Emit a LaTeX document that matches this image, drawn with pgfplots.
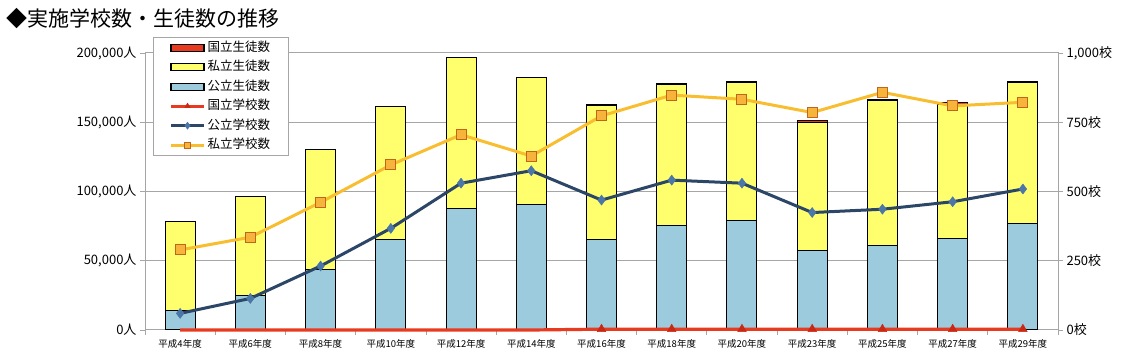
\documentclass[border=0pt]{standalone}
\usepackage{fontspec}
\setmainfont{Noto Sans CJK JP}
\usepackage{pgfplots}
\pgfplotsset{compat=1.18}
\definecolor{cnat}{RGB}{232,58,30}
\definecolor{cnatm}{RGB}{200,40,20}
\definecolor{cpri}{RGB}{255,255,110}
\definecolor{cpub}{RGB}{155,203,220}
\definecolor{cnavy}{RGB}{44,70,104}
\definecolor{cdia}{RGB}{74,118,168}
\definecolor{corange}{RGB}{248,190,48}
\definecolor{csq}{RGB}{247,180,58}
\definecolor{csqe}{RGB}{192,101,30}
\definecolor{cgrid}{RGB}{166,166,166}

\pgfplotsset{
  base/.style={
    scale only axis, width=913pt, height=277pt,
    at={(145pt,26pt)}, anchor=south west,
    xmin=-0.5, xmax=12.5,
    tick align=outside, major tick length=5pt,
    tick style={cgrid, line width=0.8pt},
    axis line style={cgrid, line width=1pt},
    yticklabel style={font=\fontsize{13}{13}\selectfont},
    scaled y ticks=false,
  },
  barleg/.style={legend image code/.code={\draw[##1, line width=1.2pt] (0pt,-3.5pt) rectangle (33pt,3.5pt);}},
  lineleg/.style={legend image code/.code={\draw[mark repeat=2, mark phase=2, ##1] plot coordinates {(0pt,0pt) (16.5pt,0pt) (33pt,0pt)};}},
}

\begin{document}
\begin{tikzpicture}[x=1pt,y=1pt]
\path[use as bounding box] (0,0) rectangle (1135,356);
\node[anchor=west, inner sep=0pt, font=\fontsize{21}{21}\selectfont] at (6,337) {◆実施学校数・生徒数の推移};

\begin{axis}[base,
  ymin=0, ymax=200000,
  ytick={0,50000,100000,150000,200000},
  yticklabels={{0人},{50,000人},{100,000人},{150,000人},{200,000人}},
  ytick pos=left,
  ymajorgrids, grid style={cgrid, line width=1pt},
  xtick={-0.5,0.5,1.5,2.5,3.5,4.5,5.5,6.5,7.5,8.5,9.5,10.5,11.5,12.5},
  x tick label as interval,
  xticklabels={平成4年度,平成6年度,平成8年度,平成10年度,平成12年度,平成14年度,平成16年度,平成18年度,平成20年度,平成23年度,平成25年度,平成27年度,平成29年度},
  xtick pos=bottom,
  xticklabel style={font=\fontsize{9.5}{9.5}\selectfont, yshift=-1pt},
  ybar stacked, bar width=30pt,
]
\addplot[fill=cpub, draw=black, line width=1pt] coordinates {
(0,14400) (1,25200) (2,43700) (3,65500) (4,87500) (5,90400) (6,65500) (7,75500) (8,79100) (9,57600) (10,61100) (11,66200) (12,76700)};
\addplot[fill=cpri, draw=black, line width=1pt] coordinates {
(0,64200) (1,71400) (2,86500) (3,95600) (4,109600) (5,91800) (6,96600) (7,101400) (8,99300) (9,92500) (10,104600) (11,96800) (12,101700)};
\addplot[fill=cnat, draw=black, line width=1pt] coordinates {
(0,0) (1,0) (2,0) (3,0) (4,0) (5,0) (6,1000) (7,1000) (8,1000) (9,1000) (10,1000) (11,1000) (12,1000)};
\end{axis}

\begin{axis}[base,
  ymin=0, ymax=1000,
  axis x line=none,
  axis y line*=right,
  ytick={0,250,500,750,1000},
  yticklabels={{0校},{250校},{500校},{750校},{1,000校}},
  clip=false,
  legend style={at={(0.0088,1.058)}, anchor=north west, draw=cgrid, line width=1pt, fill=white,
    inner xsep=16pt, inner ysep=4pt,
    font=\fontsize{12.5}{12.5}\selectfont, row sep=7pt,
    nodes={inner ysep=0pt, text height=10pt, text depth=2.5pt}},
  legend cell align=left,
]
\addplot[color=cnat, line width=3.2pt, forget plot] coordinates {
(0,0) (1,0) (2,0) (3,0) (4,0) (5,0) (6,3) (7,3) (8,3) (9,3) (10,3) (11,3) (12,3)};
\addplot[only marks, mark=triangle*, mark size=5pt, mark options={fill=cnatm, draw=cnatm}, forget plot] coordinates {
(6,3) (7,3) (8,3) (9,3) (10,3) (11,3) (12,3)};
\addplot[color=cnavy, line width=3pt, mark=diamond*, mark size=5pt, mark options={fill=cdia, draw=cdia, line width=0.5pt}, forget plot] coordinates {
(0,60) (1,114) (2,231) (3,367) (4,530) (5,575) (6,469) (7,541) (8,530) (9,424) (10,436) (11,463) (12,509)};
\addplot[color=corange, line width=3pt, mark=square*, mark size=5pt, mark options={fill=csq, draw=csqe, line width=1pt}, forget plot] coordinates {
(0,289) (1,335) (2,461) (3,596) (4,705) (5,628) (6,773) (7,848) (8,833) (9,785) (10,858) (11,809) (12,822)};
\addlegendimage{barleg, fill=cnat, draw=black}
\addlegendentry{国立生徒数}
\addlegendimage{barleg, fill=cpri, draw=black}
\addlegendentry{私立生徒数}
\addlegendimage{barleg, fill=cpub, draw=black}
\addlegendentry{公立生徒数}
\addlegendimage{lineleg, color=cnat, line width=3pt, mark=triangle*, mark size=3pt, mark options={fill=cnatm, draw=cnatm, line width=0.5pt}}
\addlegendentry{国立学校数}
\addlegendimage{lineleg, color=cnavy, line width=3pt, mark=diamond*, mark size=3.5pt, mark options={fill=cdia, draw=cdia, line width=0.5pt}}
\addlegendentry{公立学校数}
\addlegendimage{lineleg, color=corange, line width=3pt, mark=square*, mark size=3pt, mark options={fill=csq, draw=csqe, line width=1pt}}
\addlegendentry{私立学校数}
\end{axis}
\end{tikzpicture}
\end{document}
